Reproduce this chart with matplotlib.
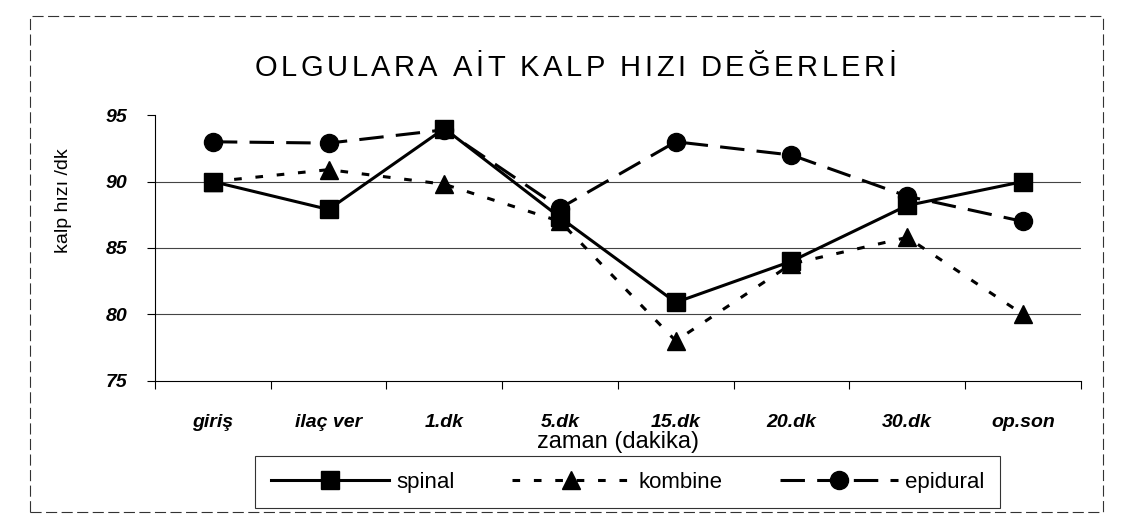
import matplotlib
matplotlib.use("Agg")
import matplotlib.pyplot as plt
from matplotlib.patches import Rectangle

plt.rcParams["font.family"] = ["Liberation Sans", "DejaVu Sans"]

zaman = ["giriş", "ilaç ver", "1.dk", "5.dk", "15.dk", "20.dk", "30.dk", "op.son"]
spinal = [90.0, 87.9, 94.0, 87.3, 80.9, 84.0, 88.2, 90.0]
kombine = [90.0, 90.9, 89.8, 87.0, 78.0, 83.8, 85.8, 80.0]
epidural = [93.0, 92.9, 93.9, 88.0, 93.0, 92.0, 88.9, 87.0]
y_ticks = [75, 80, 85, 90, 95]
title = "OLGULARA AİT KALP HIZI DEĞERLERİ"


def spaced_text(fig, xc, yc, s, fontsize, gap_px):
    # draw text letter by letter so the title gets the wide letter spacing
    r = fig.canvas.get_renderer()
    widths = []
    for ch in s:
        t = fig.text(0, 0, ch, fontsize=fontsize)
        widths.append(t.get_window_extent(r).width)
        t.remove()
    W = fig.bbox.width
    total = sum(widths) + gap_px * (len(s) - 1)
    x = xc * W - total / 2
    for ch, w in zip(s, widths):
        fig.text(x / W, yc, ch, fontsize=fontsize, ha="left", va="center")
        x += w + gap_px


fig = plt.figure(figsize=(11.29, 5.31), dpi=100)
ax = fig.add_axes([0.1373, 0.283, 0.820, 0.500])

x = list(range(len(zaman)))
ax.plot(x, spinal, color="black", lw=2.2, ls="-", marker="s", ms=13,
        label="spinal", zorder=4)
ax.plot(x, kombine, color="black", lw=2.2, ls=(0, (2.5, 4.5)), marker="^",
        ms=13, label="kombine", zorder=3)
ax.plot(x, epidural, color="black", lw=2.2, ls=(0, (8, 4)), marker="o",
        ms=13, label="epidural", zorder=2)

ax.set_ylim(75, 95)
ax.set_xlim(-0.5, len(zaman) - 0.5)
ax.set_yticks(y_ticks)
ax.set_yticklabels([str(v) for v in y_ticks], fontsize=14,
                   fontweight="bold", fontstyle="italic")
ax.set_xticks(x)
ax.set_xticklabels(zaman, fontsize=14, fontweight="bold", fontstyle="italic")
ax.set_xticks([i - 0.5 for i in range(len(zaman) + 1)], minor=True)
ax.tick_params(axis="x", which="major", length=0, pad=24)
ax.tick_params(axis="x", which="minor", length=6, width=0.8, direction="out")
ax.tick_params(axis="y", length=6, width=0.8, direction="out", pad=14)

for v in [80, 85, 90]:
    ax.axhline(v, color="#444444", lw=0.8, zorder=1)

for s in ["top", "right"]:
    ax.spines[s].set_visible(False)
ax.spines["left"].set_linewidth(0.8)
ax.spines["bottom"].set_linewidth(0.8)

ax.set_ylabel("kalp hızı /dk", fontsize=14)
ax.yaxis.set_label_coords(-0.09, 0.68)
ax.set_xlabel("zaman (dakika)", fontsize=17, labelpad=0)

spaced_text(fig, 0.51, 0.872, title, 21, 3.5)

leg = fig.legend(loc="center", bbox_to_anchor=(0.556, 0.092), ncol=3,
                 fontsize=16, frameon=True, fancybox=False, edgecolor="black",
                 handlelength=5.3, columnspacing=2.6, handletextpad=0.35,
                 borderpad=0.7, borderaxespad=0)
leg.get_frame().set_linewidth(0.8)

fig.patches.append(Rectangle((0.027, 0.035), 0.950, 0.935,
                             transform=fig.transFigure, fill=False,
                             ls=(0, (10, 4)), lw=0.8, ec="#333333"))

fig.savefig("out.png", dpi=100)
